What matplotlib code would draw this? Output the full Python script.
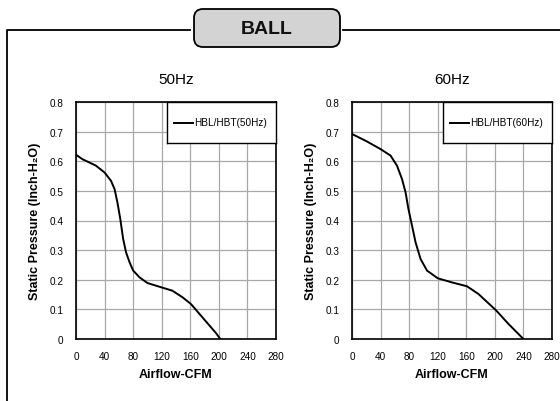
import matplotlib
matplotlib.use("Agg")
import matplotlib.pyplot as plt
from matplotlib.patches import FancyBboxPatch
from matplotlib.lines import Line2D

plt.rcParams["font.family"] = ["Liberation Sans", "DejaVu Sans"]

# curve readings (CFM, inch-H2O)
cfm_50 = [0, 9, 28, 40, 49, 54, 58, 62, 66, 70, 75, 80, 89, 100, 120, 135, 149, 161, 177, 196, 202]
sp_50 = [0.622, 0.607, 0.585, 0.562, 0.534, 0.506, 0.461, 0.405, 0.338, 0.293, 0.259, 0.231, 0.208, 0.189, 0.174, 0.163, 0.141, 0.118, 0.073, 0.02, 0.0]

cfm_60 = [0, 20, 40, 54, 63, 70, 75, 79, 84, 89, 96, 105, 120, 140, 161, 177, 202, 219, 240]
sp_60 = [0.692, 0.668, 0.641, 0.619, 0.585, 0.54, 0.495, 0.439, 0.383, 0.326, 0.27, 0.231, 0.205, 0.191, 0.178, 0.152, 0.096, 0.051, 0.0]

titles = ["50Hz", "60Hz"]
legend_labels = ["HBL/HBT(50Hz)", "HBL/HBT(60Hz)"]
xticks = [0, 40, 80, 120, 160, 200, 240, 280]
yticks = [0, 0.1, 0.2, 0.3, 0.4, 0.5, 0.6, 0.7, 0.8]
ytick_labels = ["0", "0.1", "0.2", "0.3", "0.4", "0.5", "0.6", "0.7", "0.8"]

W, H = 560, 402
fig = plt.figure(figsize=(W / 100, H / 100), dpi=100)


def px(x0, y0, x1, y1):
    # pixel box -> figure fraction rect
    return [x0 / W, 1 - y1 / H, (x1 - x0) / W, (y1 - y0) / H]


# outer frame
frame = fig.add_axes([0, 0, 1, 1])
frame.set_xlim(0, W)
frame.set_ylim(H, 0)
frame.axis("off")
frame.plot([7, 7, 190], [H, 31, 31], color="black", lw=1.3)
frame.plot([343, W], [31, 31], color="black", lw=1.3)
box = FancyBboxPatch((194, 10), 146, 38, boxstyle="round,pad=0,rounding_size=9",
                     facecolor="#d3d3d3", edgecolor="black", lw=1.3)
frame.add_patch(box)
frame.text(267, 30, "BALL", ha="center", va="center", fontsize=14, fontweight="bold",
           color="#111111")

data = [(cfm_50, sp_50), (cfm_60, sp_60)]
rects = [(76, 103, 276, 340), (352, 103, 552, 340)]
legend_boxes = [(167, 103, 276, 144), (443, 103, 552, 144)]

for i in range(2):
    ax = fig.add_axes(px(*rects[i]))
    x, y = data[i]
    ax.plot(x, y, color="black", lw=1.4)
    ax.set_xlim(0, 280)
    ax.set_ylim(0, 0.8)
    ax.set_xticks(xticks)
    ax.set_yticks(yticks)
    ax.set_yticklabels(ytick_labels)
    ax.grid(True, color="#a8a8a8", lw=0.9)
    ax.set_axisbelow(True)
    ax.tick_params(length=0, labelsize=7.2, pad=9)
    for s in ax.spines.values():
        s.set_linewidth(1.2)
    ax.set_title(titles[i], fontsize=11, pad=14)
    ax.set_xlabel("Airflow-CFM", fontsize=9, fontweight="bold", labelpad=5)
    ax.set_ylabel("Static Pressure (Inch-H\u2082O)", fontsize=9, fontweight="bold", labelpad=6)

    # legend box
    lx0, ly0, lx1, ly1 = legend_boxes[i]
    lax = fig.add_axes(px(lx0, ly0, lx1, ly1))
    lax.set_xlim(0, 1)
    lax.set_ylim(0, 1)
    lax.set_xticks([])
    lax.set_yticks([])
    lax.set_facecolor("white")
    for s in lax.spines.values():
        s.set_linewidth(1.0)
    lax.add_line(Line2D([0.06, 0.24], [0.5, 0.5], color="black", lw=1.4))
    lax.text(0.25, 0.5, legend_labels[i], fontsize=7.2, va="center", ha="left")

fig.savefig("out.png", dpi=100)
